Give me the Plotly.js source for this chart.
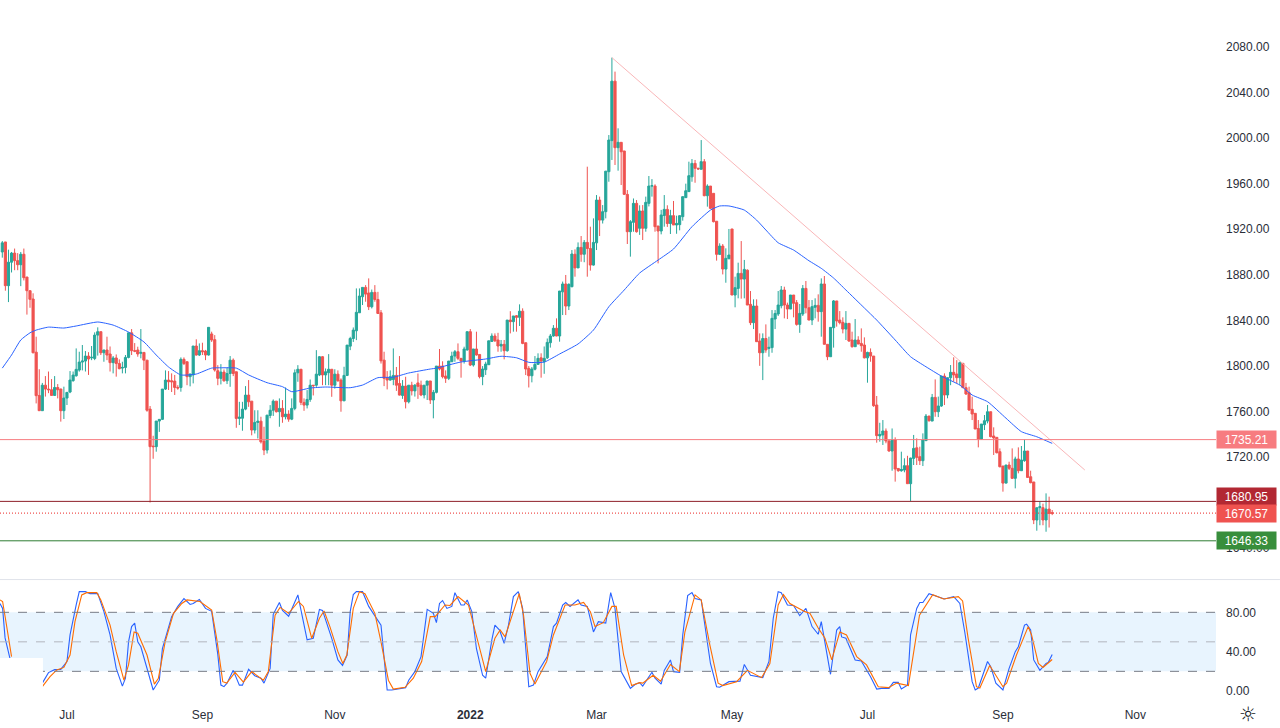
<!DOCTYPE html>
<html>
<head>
<meta charset="utf-8">
<script src="https://cdn.plot.ly/plotly-3.1.0.min.js"></script>
<style>html,body{margin:0;padding:0;background:#fff}#chart{width:1280px;height:728px}</style>
</head>
<body>
<div id="chart"></div>
<script>
const openPrice = [
1900,1908.8,1870.4,1891,1899,1892.4,1888.8,1898,1878,1866,
1858.7,1812,1774,1760.6,1783,1779.6,1779,1774,1781,1779.6,
1760.6,1771.7,1777,1787,1791.3,1796.3,1803.3,1804.2,1808.6,1807,
1806.5,1827,1830,1811.5,1813.9,1810.4,1802.8,1806.9,1802,1798,
1798.6,1807.4,1829,1813.3,1813.9,1811,1811.8,1805,1762,1729.5,
1729,1751.5,1753,1779.6,1787.5,1786.9,1786.6,1781,1781,1805.7,
1803.6,1790.5,1792,1817.4,1809.5,1813.3,1813,1809.5,1828,1823,
1795.7,1789,1794.5,1786.9,1793.3,1805,1794.8,1753.8,1754,1762,
1774.3,1769,1743.6,1750.3,1751.4,1733.9,1726,1756.4,1761,1769,
1759.7,1762.6,1755.3,1757.6,1753.2,1762.6,1793.9,1797,1767.9,1765.5,
1770.5,1783,1783,1792,1808,1792,1794,1797,1783,1792.7,
1787.5,1769.3,1791.6,1817.3,1824,1830.8,1846.6,1860.7,1868.9,1864,
1851.9,1864.5,1858.3,1846.6,1805,1789.5,1787.5,1788,1791.6,1784.5,
1774,1782.2,1768.4,1783,1778,1785,1783,1774.4,1783,1786.7,
1770,1776.7,1799.8,1799.8,1791,1789,1803.6,1808.6,1812.4,1806.6,
1804.2,1814,1830,1800.7,1814.8,1810,1790.5,1796.6,1801,1821.4,
1826.2,1822.7,1817.4,1818.9,1813.3,1840.2,1838.8,1844,1842.6,1848,
1820.3,1797.8,1791.3,1797,1801.3,1807,1803.6,1807,1820.3,1826.2,
1833,1826.2,1865,1871.9,1852.5,1869.5,1898,1886,1904,1898,
1908.4,1903,1888.5,1908,1945.6,1928,1935.4,1970.5,1997.8,2050,
1991.6,1996.3,1988.7,1950.6,1917.8,1926,1942.7,1920.8,1936,1920.8,
1942.7,1957.9,1957.9,1922.8,1918.4,1932,1937.4,1925,1931.9,1923.7,
1924,1931,1947.7,1953,1966,1977.8,1973.5,1972.6,1979.3,1949.4,
1957.9,1951.5,1927,1897.9,1905.2,1885,1894,1920.2,1862.2,1868,
1881.2,1876.2,1884,1854,1837.9,1852.5,1821.8,1811.5,1824,1815.3,
1816,1841.1,1845.5,1852.8,1866.6,1853.4,1849.9,1862.2,1855.5,1836.4,
1845.5,1868,1851,1840.2,1851.4,1853.1,1847.6,1871.9,1818.9,1808,
1833.5,1857,1840.2,1838.2,1832.3,1837.3,1822.7,1816.8,1822.7,1819.7,
1818.3,1807,1811.8,1808.6,1765.6,1738.4,1739.3,1742.8,1734,1725.2,
1734.9,1709.9,1707.9,1708.5,1712.3,1696.5,1718.7,1728,1720.2,1716.7,
1734.3,1755.9,1751.5,1772.3,1759.7,1764.7,1791,1774.4,1789.6,1794.3,
1792.8,1789.6,1802.2,1780.8,1776.4,1761.8,1758.3,1745,1735.7,1748.3,
1751.5,1759.7,1738.4,1737.2,1724.6,1712,1697,1712.9,1710,1701.2,
1718.2,1707.9,1716.7,1725.2,1702.6,1698,1664.6,1675.4,1675.4,1664.6,
1674.2,1671];
const highPrice = [
1909.6,1908.8,1902,1900,1903,1899,1900,1903,1878,1866,
1863.7,1825.6,1797,1785,1791,1795,1788.4,1791,1784,1780,
1781.7,1776.7,1795.4,1795,1815.3,1812.4,1818.3,1813,1812,1817.4,
1829.4,1833.8,1830,1814,1825.6,1817,1808.6,1810,1805.7,1803.6,
1809.5,1829,1832.3,1820,1816.8,1832.3,1811.8,1805,1764.7,1738.6,
1751.5,1753,1779.6,1796,1795.4,1793.4,1792,1783,1807.4,1807.4,
1803.6,1793,1817.4,1823.3,1819.7,1820.3,1814,1833.8,1830,1827,
1800.6,1801.5,1796.8,1798.6,1808.6,1806.5,1794.8,1768.4,1768.4,1782.2,
1787.5,1769,1761,1761,1755.3,1746.5,1756.7,1765.5,1770.5,1769,
1771.4,1769.9,1781,1761,1771.4,1796.8,1800.6,1797,1771.4,1778.7,
1788,1783,1813.8,1808.6,1808.5,1797.7,1810.3,1797,1797,1796,
1789,1799.2,1818.2,1825.5,1833.7,1868,1868,1868.9,1870.9,1876.8,
1867,1870.9,1865,1849,1812.4,1795.4,1796,1815.3,1799,1808.6,
1787.5,1790.4,1783,1786,1784,1793.3,1787,1783,1786.7,1786.7,
1778.8,1799.8,1814.8,1804,1796,1804.2,1812.4,1813.9,1819.7,1806.6,
1816.8,1830,1832.3,1814.8,1830,1810,1799.8,1803.6,1822,1828.5,
1828.5,1829,1822.7,1822.7,1840.2,1848,1843.8,1844.6,1854,1850.5,
1820.3,1799.8,1799,1808.6,1811,1811,1817,1824,1828,1835.8,
1841.7,1865.7,1874,1879.8,1872.4,1901.7,1902.3,1908.4,1914,1910.5,
1974.9,1922.2,1929.5,1950,1948.6,1941.2,1971,2002.7,2070.7,2058.4,
2008.6,1996.3,1988.7,1954.4,1928,1947,1945.6,1941,1941.2,1948.6,
1966.7,1964,1959.4,1922.8,1937,1950,1941,1937,1944.8,1931.9,
1932,1948.6,1960,1979.3,1981.6,1980.8,1974,1998.3,1981.6,1959.4,
1957.9,1951.5,1927,1907.6,1907,1903.2,1920.2,1920.2,1878.3,1890.6,
1909.6,1893,1884.7,1865.7,1858.4,1858.4,1828.5,1828.5,1836.4,1825.6,
1849,1849,1865.7,1870.1,1869.5,1855.5,1862.2,1862.2,1857.8,1854.3,
1871,1874.5,1857.8,1857.8,1859.3,1862.8,1876.8,1878.9,1818.9,1833.8,
1857.8,1857,1848.1,1842.6,1848.1,1837.3,1830,1841.1,1826,1832.9,
1825,1812.4,1815.3,1808.6,1773.5,1750,1752.4,1745,1735.7,1745,
1737.2,1710,1724.6,1718.8,1721,1719.3,1739.3,1736.3,1729,1740.7,
1757.7,1756,1775.3,1788.1,1773,1791,1793.4,1789.6,1800.7,1807.5,
1805,1803.7,1802.2,1785,1781.7,1772.9,1758.3,1752.4,1748.9,1756.8,
1765.6,1759.7,1746,1737.2,1727.5,1712,1712.9,1715.8,1727.5,1720.2,
1728.4,1729.6,1735.4,1725.2,1707.9,1698,1675.4,1680.7,1679,1688,
1685.1,1673.4];
const lowPrice = [
1895,1866,1856,1882,1884,1884,1870,1875,1845,1851,
1811,1767,1760.6,1760.6,1773,1776,1774,1774,1771.4,1751,
1753.3,1765.6,1776,1786,1790.5,1794.9,1796,1795,1792,1805,
1805,1809,1809.5,1803.6,1805,1795,1793.4,1790.5,1797,1793.4,
1793.4,1806.6,1809.5,1812,1808,1806.6,1796.3,1759.7,1680,1718.4,
1724.6,1742,1752.4,1778.8,1778.8,1777,1774.4,1779,1777.3,1800.7,
1783,1782,1784.6,1809,1808.6,1809.5,1805,1809,1821,1794.9,
1783,1783.7,1786,1784,1781.6,1791,1745.6,1748,1743,1761,
1764,1739,1740.6,1736.2,1731.8,1721.6,1723,1754,1756,1759,
1746.5,1750,1753,1750.9,1752.3,1761,1786,1765.5,1760.5,1762.6,
1768.4,1774,1781.6,1791,1783,1783,1783,1772.8,1780,1786,
1759.7,1769,1791,1813.8,1821,1822.6,1846.6,1853.4,1856.3,1849,
1850.4,1856.3,1845.5,1802,1782.2,1779.3,1787,1783,1778,1774,
1771,1762.6,1767,1774,1773,1771,1773.4,1771.4,1770,1766.5,
1753.9,1775.8,1796,1789,1785,1787.5,1803.6,1803.6,1805,1789.6,
1802,1813.3,1799.8,1799.3,1809,1789,1783,1792,1800.7,1821.4,
1821,1812.4,1812.4,1805.7,1812.4,1828.5,1830,1830,1835,1819,
1791.9,1781,1785.5,1796,1801,1789.6,1793,1806,1816,1825.6,
1826,1821.2,1844.6,1844.6,1849,1869,1878.3,1886,1891.4,1891,
1878.3,1883.6,1888,1901.7,1914,1925,1929.5,1961.7,1980.8,1976.4,
1971.4,1958.8,1950,1907,1895.9,1917.8,1917,1915,1910.5,1917.8,
1940,1948.6,1917.8,1890,1915.5,1922.2,1922,1915.8,1923.7,1916,
1919,1927.5,1947.7,1953,1961.7,1960.8,1972,1972.6,1949,1939.8,
1938,1926,1892.4,1897.3,1880.3,1873,1893.8,1862.2,1851.4,1859.3,
1859,1859.3,1853.4,1835.8,1832.3,1821,1800,1787.5,1811.5,1808,
1811.5,1832.3,1843.8,1850.5,1841.7,1841.1,1849.9,1842.6,1835.3,1829,
1843.8,1846.1,1840.2,1835.8,1841.7,1838.8,1825.6,1818.9,1805,1808,
1816,1834.4,1836.4,1828.5,1822.7,1821,1816,1816.8,1819,1812.4,
1806.6,1785.2,1803.6,1764,1732.5,1733.4,1730.5,1732,1724.6,1707.9,
1698.3,1707,1707,1706.5,1696.5,1681.3,1712.9,1712.9,1712.9,1712,
1734.3,1751,1751.5,1755.3,1755,1764,1765.6,1771.5,1783,1786,
1784.6,1783,1780.8,1774.4,1760.6,1752.4,1744.5,1728.4,1735,1743.6,
1749.5,1737.2,1721.7,1723.1,1710.8,1689.5,1696.8,1708.5,1700.6,1692.4,
1705.6,1707.9,1715.8,1702,1696.8,1661,1655.2,1660,1660,1654.3,
1658,1668.9];
const closePrice = [
1908,1870.4,1891,1899,1892.4,1888.8,1898,1877.4,1866,1858.4,
1811.5,1773.8,1760.6,1783,1779.6,1779,1774,1781,1779,1760.6,
1771.7,1776.7,1787.5,1791.9,1796.9,1803.3,1804.2,1808.6,1806,1807.5,
1827,1830,1811.5,1813.9,1809.5,1802.8,1806.9,1802,1797.5,1798.6,
1807.4,1829,1813.3,1812.9,1810.4,1811.8,1805,1761,1729,1729,
1751.5,1753,1779.6,1787.5,1786,1786,1781,1780.5,1805.7,1802,
1790.5,1792.8,1817.4,1809.5,1813.3,1812.4,1809.5,1833.8,1822.7,1796.3,
1789,1794.5,1786.9,1793.3,1805,1793.3,1753.8,1755,1762,1774.3,
1768.4,1743.6,1750.3,1751.4,1733.3,1726,1756.7,1761,1769,1759.7,
1762.6,1755.3,1757.6,1753.2,1762.6,1793.9,1797,1767.9,1765.5,1770.5,
1783,1782.6,1792.7,1808,1792,1794.8,1797,1783,1792.7,1786.9,
1769.3,1791.6,1818.2,1824,1831.4,1847,1861.3,1868.9,1863,1851.9,
1864.5,1858.3,1846,1804.4,1789,1787.5,1790.4,1791.6,1783,1774.3,
1782.2,1768.4,1783,1778,1783,1782,1774.4,1783,1786.7,1770,
1776.7,1799.8,1797.2,1790.5,1789,1804.2,1808.6,1812.4,1806.6,1804.2,
1814.8,1830,1800.7,1814.8,1809.5,1790.5,1797.2,1801.6,1822,1826.2,
1822,1817.4,1818.9,1813.3,1840.2,1838.8,1843.8,1842.6,1848,1819.7,
1797.2,1791.3,1797.2,1801.3,1806.6,1804.2,1806.6,1820.6,1826.2,1833,
1826.2,1865.7,1871.9,1852.5,1871.6,1898.2,1886,1904,1898,1908.4,
1903,1888.5,1908.4,1945.6,1928,1935.4,1971,1998.3,2050,1991.6,
1996.3,1988,1950.6,1917.8,1926.6,1942.7,1917.8,1936,1920.8,1943.6,
1957.9,1958.2,1922.2,1918.4,1932.5,1937.4,1925,1931.9,1923.7,1925.1,
1931.9,1948.6,1953.8,1967,1977.8,1973.5,1973,1979.3,1949.4,1957.9,
1938.3,1926.6,1897.9,1905.2,1885,1894.4,1897.3,1862.2,1868.6,1881.2,
1876.2,1884.7,1853.4,1837.9,1852.5,1821.2,1811.5,1824,1813.9,1816.2,
1841.7,1846,1853.4,1866.6,1853.4,1849.9,1862.2,1854.9,1836.4,1846.1,
1868,1851,1840.2,1852,1853.1,1847.6,1871.9,1818.9,1808,1833.8,
1857,1839.4,1837.9,1832.3,1837.3,1821.8,1816.8,1822.7,1819.2,1817.7,
1807,1811.8,1808.6,1765,1738.7,1739.8,1742.8,1734,1725.2,1734.9,
1709.4,1707.9,1709,1712.3,1696.5,1719,1727.5,1719.6,1716.7,1734.9,
1755.9,1751.8,1772.3,1759.7,1764.7,1791,1774.4,1789.6,1794.3,1792,
1789.6,1802.8,1780.8,1775.3,1761.2,1757.7,1744.5,1735.7,1748.9,1751.8,
1759.7,1737.8,1736.6,1723.7,1711.4,1697,1712.9,1710,1701.2,1718.2,
1707.9,1717.3,1725.2,1702,1697.4,1664.6,1675.4,1676.3,1664.6,1674.2,
1670.4,1670.57];

const maIndex = [0,3,6,9,11,15,20,24,31,36,41,46,50,54,58,63,68,72,76,80,86,91,94,100,105,113,117,122,127,132,139,141,149,157,162,167,171,176,181,187,192,197,202,207,213,218,224,230,233,236,241,245,248,252,257,262,266,270,274,280,284,290,295,300,305,311,315,320,326,331,336,341];
const maValue = [1798,1809.5,1822.7,1829,1831.4,1834,1833.2,1835,1838.5,1835.8,1829.7,1821,1809.5,1799,1792,1792.8,1798,1798.3,1798,1792,1785.2,1781.7,1777.3,1780.5,1781.4,1780.8,1783.1,1789.6,1790,1793.7,1797.2,1798,1803.4,1806,1808.4,1807.1,1803.1,1803.3,1810.4,1819.2,1831.4,1851.9,1866.6,1881.5,1892.9,1902.6,1922.2,1936.8,1940.4,1940.4,1936.8,1928,1919.3,1908.1,1901.7,1892.3,1885.6,1877.1,1866.6,1850.8,1840.2,1822.7,1808,1799.2,1791,1783.1,1774.4,1768.5,1754,1742.2,1737.7,1731.9];

const kIndex = [-0.75,0.1,0.9,2.5,null,13,15,17,19,21,22,24,25,27,28.5,31,33,35,37,39,40,41,42,43,44,45,47,49,51,52,55,57,59,61,62,64,66,68,70,71,72,73,75,77,78,80,82,84,85,87,88,90,91,93,96,97,99,101,102,103,104,107,109,110.5,112,113,114,115,117,119,123,125,126.5,131,132,134,136,138,140,141,142,143,144.4,146,147,149,150,151,152.5,154,156,157,159,160,161.5,163,164.4,166,167.6,169,171,172.5,174,177,179,180,182,183,184.4,187,188,190,192,193.6,196,197.6,199,201,204,205.6,207,208,211,212,214,215,217,218,220,221,222.6,224,225,227,230,232,233,236,239.6,241,243,247,249,250.4,252,253,255,257,259,261,263,265,266,269,271,272,272.6,274,277,279,282,284,285.6,288,289.4,291,292,294,295,297,298,299,301,303.5,306,309,311,312.6,315,316,317,320,321,322.7,325,327,329,330,332,332.7,334,335,337,339,339.7,341];
const kValue = [89,84,54,33,null,8,18.7,21.7,22,30,57,87.5,101,101,99,99,80.7,57,23,5,13,50,65.5,69,50,45,23,1,11,43,75.6,86,94,88,89,93,84,81,37,6,4.4,8,21,6,6,22,15.6,13,8,23,78,90,82,76,97.7,82,52,53.6,67,83,82,53.6,31.6,26,36.6,80.7,98,101,101,86,67,1,1,3.4,11,19.7,35,83,79,69.5,89,92,84,86,100,87.5,87.5,92.6,80.7,43,16,13,52,67,62,48.5,67,96,101,84,4.4,6,19.7,35,65.5,69,87.5,90,86,92.6,87.5,86,60,70.5,69,100,84,19.7,2.7,6.8,8.5,5,19,13,7,21,31.6,19.7,19,57,97,100,94,92.6,28,4.4,3.8,9.5,10,27,16,13.6,30,74,101,100,87.5,87,76.6,84,65.5,57.7,70.5,17,62,65.5,55,53.6,31.6,30.5,14.6,2,2.7,2.7,8.8,8.8,2,6,57,84,90,90,99,96,93.6,96,89,60,9.5,1,3,30,25,8,1,23,40,45,67,68,62,31.6,21,28,29,37];

const dIndex = [-0.75,0.1,1,3,null,13,15.5,17.7,20,22,23.6,25.8,27.4,30.7,32,35,37,39.5,41,42.8,44,47,49.4,50.7,52.9,55.6,58.3,60,64.2,68,69.7,71.6,72.9,75.6,78.3,81,84.8,86.4,88.6,90.2,93,96.2,97.8,100.5,103,104.5,106.4,109,110.6,111.9,114,116,117.8,121,123,125.4,127,130.8,133.5,136.2,139,140.6,143.8,145.4,148,151.4,153.6,157,160,161.7,163.3,165.5,167.9,169.3,171.4,173,176.8,179,182.8,186,188.8,191,192.5,195.2,198,199.4,201.8,204.4,207,208,211.4,213.8,217,219.9,221.7,225,227,229.8,232.5,234,238.5,242,246.6,249.3,252,253.7,255.8,260.7,262.3,265,267.2,269.4,272,274.2,277.5,280.7,284.5,287.8,290.5,294.3,297.9,302.2,305.7,310.5,311.9,313.7,316.4,317.5,320.7,325,326.2,329.4,333.2,334.3,336.5,338,341];
const dValue = [92.6,91,74,35,null,4.4,14.6,21.4,24,36.6,70.5,97.7,100,100,92.6,67,40,11,26.5,60,58.7,36.6,7,13,50,79,89,92.6,91,82.4,52,9.5,8,19,9,19.7,11,19.7,77,85,79,91,86,53.6,74,81.4,65.5,40,28,36.6,84,101,99,79,50,11,2,3.8,13,30,75.6,75.6,87.5,87,96,87.5,62,19.7,53.6,62,55,75.6,99,77,18,7,30,57,87.5,87.5,90,80.7,65.5,69.5,86,86,36.6,5.5,8.5,8,16,10,27,19.7,60,97.7,92.6,47,8,5.5,9.5,21,13.6,28,87.5,98,89,80.7,79,64,53.6,31.6,60,57,35,26.5,4.4,3.4,8,5.5,77,98,93.6,96,91.6,53.6,4.4,3,26,4.4,8,36.6,65.5,57,28,24,32];

const trendIndex = [198,351.6];
const trendValue = [2070.7,1708.5];
const levelResistance = 1735.21, levelPivot = 1680.95, levelLast = 1670.57, levelSupport = 1646.33;
const priceTicks = [2080,2040,2000,1960,1920,1880,1840,1800,1760,1720,1640];
const stochTicks = [80,40,0];
const monthIndex = [21,65,108,152,193,237,281,325,368];
const monthLabels = ['Jul','Sep','Nov','<b>2022</b>','Mar','May','Jul','Sep','Nov'];

const barIndex = openPrice.map((_, i) => i);
const axisFont = {family:'"Liberation Sans", Arial, sans-serif', size:12, color:'#2a2e39'};
const hline = (v, color, dash, yref, w) => ({type:'line', xref:'paper', x0:0, x1:1, yref:yref||'y', y0:v, y1:v, line:{color:color, width:w||1, dash:dash||'solid'}});
const tag = (text, yVal, bg) => ({xref:'paper', x:1, xanchor:'left', yref:'y', y:yVal, yanchor:'middle', text:text, showarrow:false, width:59, height:17, borderpad:0, bgcolor:bg, align:'center', valign:'middle', font:{family:axisFont.family, size:12, color:'#ffffff'}});

const traces = [
  {type:'candlestick', x:barIndex, open:openPrice, high:highPrice, low:lowPrice, close:closePrice, xaxis:'x', yaxis:'y', whiskerwidth:0,
   increasing:{line:{color:'#26a69a', width:1}, fillcolor:'#26a69a'},
   decreasing:{line:{color:'#ef5350', width:1}, fillcolor:'#ef5350'}, hoverinfo:'skip'},
  {type:'scatter', mode:'lines', x:maIndex, y:maValue, xaxis:'x', yaxis:'y', line:{color:'#2962ff', width:1, shape:'spline', smoothing:0.5}, hoverinfo:'skip'},
  {type:'scatter', mode:'lines', x:trendIndex, y:trendValue, xaxis:'x', yaxis:'y', line:{color:'#f9b6b8', width:1}, hoverinfo:'skip'},
  {type:'scatter', mode:'lines', x:kIndex, y:kValue, xaxis:'x', yaxis:'y2', line:{color:'#2962ff', width:1.1}, hoverinfo:'skip'},
  {type:'scatter', mode:'lines', x:dIndex, y:dValue, xaxis:'x', yaxis:'y2', line:{color:'#ff6d00', width:1.1}, hoverinfo:'skip'}
];

const layout = {
  width:1280, height:728, margin:{l:0, r:64, t:0, b:25, pad:0},
  paper_bgcolor:'#ffffff', plot_bgcolor:'#ffffff', showlegend:false, boxgap:0, dragmode:false,
  xaxis:{anchor:'y2', range:[-0.747,394.2], rangeslider:{visible:false}, showgrid:false, zeroline:false, showline:false, ticks:'', tickmode:'array', tickvals:monthIndex, ticktext:monthLabels, tickfont:axisFont, tickangle:0, ticklabelstandoff:3, fixedrange:true},
  yaxis:{domain:[0.1764,1], range:[1612.8,2121.3], side:'right', anchor:'x', showgrid:false, zeroline:false, showline:false, ticks:'', tickmode:'array', tickvals:priceTicks, tickformat:'.2f', tickfont:axisFont, ticklabelstandoff:9, fixedrange:true},
  yaxis2:{domain:[0,0.175], range:[-12.2,112.9], side:'right', anchor:'x', showgrid:false, zeroline:false, showline:false, ticks:'', tickmode:'array', tickvals:stochTicks, tickformat:'.2f', tickfont:axisFont, ticklabelstandoff:9, fixedrange:true},
  shapes:[
    {type:'rect', xref:'paper', x0:0, x1:1, yref:'y2', y0:20, y1:80, fillcolor:'rgba(33,150,243,0.1)', line:{width:0}, layer:'below'},
    hline(80,'#787b86','dash','y2'), hline(50,'#b2b5be','dash','y2'), hline(20,'#787b86','dash','y2'),
    {type:'rect', xref:'x', x0:-1, x1:13.2, yref:'y2', y0:-12, y1:33.5, fillcolor:'#ffffff', line:{width:0}, layer:'above'},
    hline(levelResistance,'#f77c80','solid','y',1), hline(levelPivot,'#8e1f28','solid','y',1), hline(levelLast,'#ef5350','1px,2px','y',1.2), hline(levelSupport,'#2e7d32','solid','y',1),
    {type:'line', xref:'paper', x0:0, x1:1.0526, yref:'paper', y0:0.1756, y1:0.1756, line:{color:'#e0e3eb', width:1}}
  ],
  annotations:[
    tag('1735.21', levelResistance, '#f77c80'),
    tag('1680.95', 1685.2, '#b22833'),
    tag('1670.57', 1670.3, '#ef5350'),
    tag('1646.33', 1646.6, '#388e3c'),
    {xref:'paper', yref:'paper', x:1.0263, y:-0.0157, xanchor:'center', yanchor:'middle', text:'☼', showarrow:false, font:{family:'"DejaVu Sans"', size:20, color:'#131722'}}
  ]
};
Plotly.newPlot('chart', traces, layout, {displayModeBar:false, staticPlot:true});
</script>
</body>
</html>
